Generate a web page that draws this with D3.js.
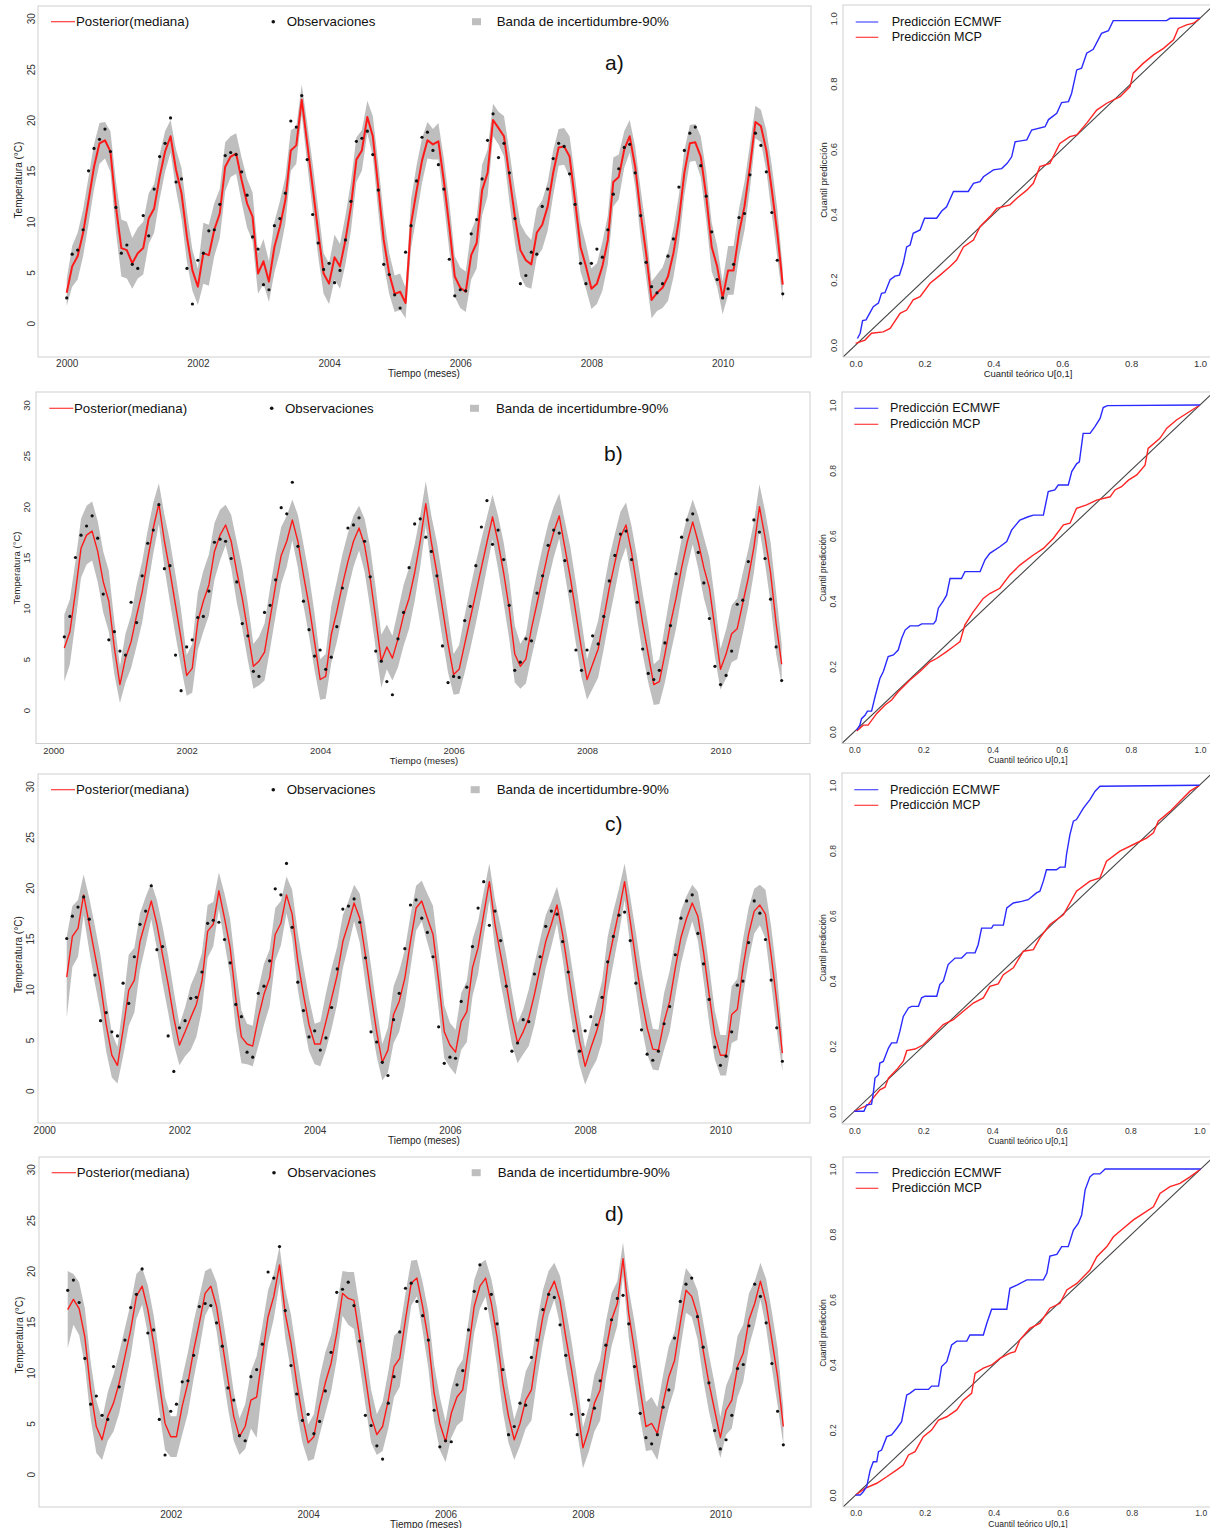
<!DOCTYPE html>
<html><head><meta charset="utf-8">
<script src="https://cdn.jsdelivr.net/npm/d3@7"></script>
<style>body{margin:0;background:#fff} svg text{font-family:"Liberation Sans",Arial,sans-serif}</style>
</head><body><svg id="c" width="1210" height="1528"></svg>
<script>
// ---------- DATA ----------
// Monthly observed temperature, Jan 2000 .. Dec 2010
const obsTemp = [
 2.5,6.8,7.2,9.2,15.0,17.2,18.1,19.1,16.9,11.4,6.9,7.7,
 5.8,5.4,10.6,8.6,13.2,16.4,17.7,20.2,13.9,14.2,5.4,1.9,
 6.2,6.9,9.1,9.2,11.7,16.5,16.8,16.6,14.9,12.6,8.5,7.3,
 3.8,3.3,9.6,10.3,12.8,19.9,19.3,22.4,16.1,10.7,7.9,5.3,
 5.9,4.0,5.2,8.2,12.0,17.9,18.2,18.9,16.6,13.1,5.8,4.8,
 2.8,1.5,7.0,9.6,14.0,18.3,18.8,17.0,15.6,13.2,6.3,2.7,
 3.3,3.2,8.8,10.2,14.2,18.0,20.6,16.3,17.7,14.8,10.3,3.9,
 4.7,7.0,6.8,11.5,13.2,16.2,17.7,17.4,14.7,11.7,5.9,3.9,
 5.9,7.3,6.5,9.2,12.7,15.2,17.3,17.6,14.8,10.6,6.0,3.6,
 3.0,3.9,6.6,8.3,13.4,17.0,18.7,19.3,15.5,12.5,9.0,4.3,
 2.5,3.4,5.8,10.4,10.8,14.6,18.7,17.5,14.9,10.9,6.2,2.9];

// Panel a: posterior median and half-width of 90% band (from Jan 2000)
const startA = 0;
const medA = [
 3.0,5.6,6.6,8.9,12.1,15.4,17.7,18.0,16.9,11.5,7.4,7.2,
 5.9,6.9,7.4,10.3,11.3,14.4,16.9,18.4,15.1,12.8,8.5,5.2,
 3.6,6.9,6.7,9.2,10.8,15.4,16.4,16.7,14.1,11.8,10.5,4.9,
 6.1,4.1,7.5,9.5,12.1,17.0,17.5,22.0,17.7,13.4,9.0,4.9,
 3.9,6.5,5.6,8.2,11.5,16.1,17.0,20.3,18.4,13.4,8.2,4.9,
 2.9,3.1,2.0,9.8,13.0,16.0,18.0,17.6,17.9,14.0,9.5,4.6,
 3.5,3.1,6.7,7.9,13.1,14.8,20.0,19.2,18.4,14.4,10.5,7.2,
 6.2,5.8,8.9,9.7,11.5,14.8,17.3,17.4,16.4,12.1,7.5,5.6,
 3.4,3.9,5.6,8.2,13.9,14.4,17.1,18.4,15.4,10.8,6.9,2.3,
 3.0,3.5,4.6,6.9,10.2,14.8,17.7,17.8,16.4,12.5,7.5,5.6,
 2.5,5.2,5.2,8.9,11.5,15.4,19.8,19.4,17.0,13.1,8.9,3.8];
const halfA = [
 1.3,2.0,2.3,2.3,2.3,2.2,2.0,1.8,2.0,2.5,2.8,2.8,
 2.5,2.5,2.6,2.5,2.4,2.2,2.0,1.6,2.0,2.5,2.5,2.0,
 1.8,3.0,3.0,2.6,2.4,2.4,2.0,2.0,2.2,2.4,2.4,2.0,
 2.2,2.0,2.5,2.5,2.3,2.0,1.8,1.5,2.0,2.3,2.4,2.0,
 2.0,2.2,2.2,2.4,2.4,2.2,2.0,1.6,2.0,2.4,2.4,2.0,
 1.8,1.8,1.5,2.4,2.5,2.2,1.8,1.5,1.8,2.2,2.4,2.0,
 2.0,2.0,2.4,2.5,2.5,2.3,1.6,1.6,2.0,2.5,2.6,2.6,
 2.6,2.4,2.4,2.4,2.4,2.2,1.8,1.8,2.0,2.3,2.4,2.2,
 2.0,2.0,2.4,2.4,2.4,2.2,1.8,1.6,2.0,2.4,2.4,1.8,
 1.8,2.0,2.4,2.4,2.4,2.2,1.8,1.8,2.0,2.4,2.4,2.0,
 1.6,2.4,2.4,2.4,2.4,2.2,1.6,1.6,2.0,2.4,2.4,1.6];

// Panel b (from Mar 2000)
const startB = 2;
const medB = [
 6.1,7.7,11.6,15.9,17.2,17.6,15.6,12.6,10.7,6.1,
 2.5,5.1,6.7,9.3,11.6,14.9,17.9,20.3,16.6,13.6,10.3,7.0,
 3.4,4.1,8.7,10.7,12.3,15.6,17.2,18.2,16.6,13.6,11.0,7.7,
 4.3,4.8,5.7,9.0,12.3,15.2,16.6,18.7,16.6,13.3,10.3,6.7,
 3.0,3.3,7.4,9.7,12.3,14.6,16.6,17.9,16.2,13.0,9.0,4.8,
 6.2,5.1,7.0,9.3,11.0,13.5,16.6,20.3,16.5,13.5,10.0,6.5,
 3.5,4.0,6.5,9.0,11.5,14.0,16.5,19.0,16.5,13.5,10.0,5.5,
 4.3,5.0,8.0,10.5,13.0,15.5,17.5,19.1,16.0,13.0,9.5,6.0,
 3.0,4.5,6.0,9.0,12.0,14.5,17.0,18.2,15.5,12.0,8.5,5.5,
 2.5,2.8,5.5,8.5,11.0,14.0,16.5,18.5,16.5,14.0,12.0,8.0,
 4.0,5.5,7.5,8.0,10.5,13.0,16.0,20.0,17.0,13.5,8.5,4.5];
const halfB = [
 3.3,3.2,3.0,2.9,2.9,2.9,3.0,3.0,3.0,2.6,
 1.8,2.4,2.6,3.0,3.0,2.8,2.5,2.0,2.6,3.0,3.0,2.8,
 2.0,2.4,2.8,3.0,3.0,2.8,2.5,2.0,2.6,3.0,3.0,2.8,
 2.2,2.4,2.8,3.0,3.0,2.8,2.5,2.0,2.6,3.0,3.0,2.8,
 2.0,2.2,2.8,3.0,3.0,2.8,2.5,2.2,2.6,3.0,3.0,2.6,
 2.2,2.2,2.8,3.0,3.0,2.8,2.5,2.2,2.6,3.0,3.0,2.8,
 2.0,2.4,2.8,3.0,3.0,2.8,2.5,2.2,2.6,3.0,3.0,2.8,
 2.2,2.4,2.8,3.0,3.0,2.8,2.5,2.2,2.6,3.0,3.0,2.8,
 2.0,2.4,2.8,3.0,3.0,2.8,2.5,2.2,2.6,3.0,3.0,2.8,
 2.0,2.2,2.8,3.0,3.0,2.8,2.5,2.2,2.6,3.0,3.0,2.8,
 2.0,2.4,2.8,3.0,3.0,2.8,2.5,2.2,2.6,3.0,3.0,2.0];

// Panel c (from May 2000)
const startC = 4;
const medC = [
 11.2,15.2,16.0,19.3,16.4,13.4,10.5,6.5,
 3.5,2.5,6.0,9.9,10.9,14.7,16.7,18.7,16.4,13.4,10.5,7.2,
 4.5,5.8,7.2,8.5,10.8,15.7,16.4,19.7,17.0,14.1,9.1,5.3,
 4.6,4.4,7.2,9.5,11.1,15.4,16.5,19.3,17.4,12.8,9.5,6.5,
 4.6,4.6,6.8,9.1,11.4,14.7,16.5,18.5,17.0,13.4,9.5,5.8,
 2.8,4.0,7.5,8.8,11.1,14.7,18.0,18.7,17.0,15.4,10.8,5.8,
 4.5,3.8,6.8,7.8,12.1,14.1,17.4,20.6,16.4,13.4,10.5,7.2,
 4.7,5.8,7.2,9.5,12.1,14.7,16.4,18.3,15.4,11.8,8.2,4.9,
 2.4,4.2,5.8,7.8,12.4,15.1,17.7,20.6,16.7,12.8,9.1,6.2,
 4.1,4.0,6.8,8.8,12.1,15.1,17.0,18.5,17.2,13.7,9.5,5.5,
 3.5,3.5,7.5,8.0,12.1,15.4,17.7,18.3,17.4,13.4,8.8,3.7];
const halfC = [
 4.0,3.0,2.8,2.0,2.6,2.8,2.8,2.6,
 2.2,1.8,2.6,3.5,3.2,2.8,2.4,1.8,2.4,2.8,2.8,2.6,
 2.0,2.4,3.2,3.2,2.8,2.6,2.2,1.8,2.4,2.8,3.0,2.6,
 2.0,2.0,2.8,3.0,2.8,2.6,2.2,1.8,2.4,2.8,2.8,2.6,
 2.0,2.2,2.8,3.0,2.8,2.6,2.2,1.8,2.4,2.8,2.8,2.4,
 1.8,2.2,2.8,3.0,2.8,2.6,2.2,2.0,2.4,2.8,2.8,2.6,
 2.2,2.2,2.8,3.0,2.8,2.6,2.2,1.8,2.4,2.8,2.8,2.6,
 2.0,2.2,2.8,3.0,2.8,2.6,2.2,1.8,2.4,2.8,2.8,2.4,
 1.8,2.2,2.8,3.0,2.8,2.6,2.2,1.8,2.4,2.8,2.8,2.6,
 2.0,2.0,2.8,3.0,2.8,2.6,2.2,1.8,2.4,2.8,2.8,2.4,
 2.0,2.0,2.8,3.0,2.8,2.6,2.2,2.0,2.4,2.8,2.8,1.8];

// Panel d (from Jul 2000)
const startD = 6;
const medD = [
 16.2,17.2,16.3,13.5,8.3,4.7,
 3.4,5.7,7.0,9.0,11.6,14.2,17.5,18.5,16.2,12.9,9.0,5.0,
 3.7,3.7,6.7,9.0,12.2,14.9,17.8,18.5,16.5,12.9,9.3,5.7,
 3.7,4.7,7.3,7.6,11.6,15.5,17.5,20.6,15.8,12.9,9.0,5.7,
 3.1,3.7,6.7,9.0,10.9,13.9,17.8,17.3,17.1,13.5,9.6,5.7,
 3.9,4.7,7.3,10.6,11.4,15.2,18.8,19.3,16.5,13.2,8.0,5.0,
 3.2,6.0,7.6,8.3,12.2,16.5,18.5,19.3,16.8,13.5,9.0,5.7,
 3.4,5.0,7.3,8.3,12.2,15.5,17.8,19.0,17.1,13.5,10.3,6.7,
 2.6,4.4,7.0,8.3,12.2,15.2,16.8,21.2,15.8,12.2,8.3,4.7,
 5.0,4.0,7.0,9.6,11.2,14.9,18.1,17.5,15.7,12.2,9.0,6.3,
 3.6,6.3,7.3,10.6,11.9,15.2,16.8,19.0,16.8,13.2,9.6,4.7];
const halfD = [
 3.8,2.5,2.6,2.8,2.8,2.6,
 2.0,2.4,2.8,3.0,2.8,2.6,2.2,1.8,2.4,2.8,2.8,2.6,
 2.0,2.0,2.8,3.0,2.8,2.6,2.2,1.8,2.4,2.8,2.8,2.4,
 1.8,2.2,2.8,4.0,3.0,2.6,2.2,1.8,2.4,2.8,2.8,2.6,
 1.8,2.2,2.8,3.0,2.8,2.6,2.2,2.6,2.8,2.8,2.8,2.6,
 2.0,2.4,2.8,3.0,2.8,2.6,2.2,1.8,2.4,2.8,2.8,2.6,
 2.0,2.4,2.8,3.0,2.8,2.6,2.2,1.8,2.4,2.8,2.8,2.6,
 2.0,2.2,2.8,3.0,2.8,2.6,2.2,1.8,2.4,2.8,2.8,2.6,
 2.0,2.2,2.8,3.0,2.8,2.6,2.2,1.6,2.4,2.8,2.8,2.4,
 2.6,2.6,2.8,3.0,2.8,2.6,2.2,2.0,2.4,2.8,2.8,2.6,
 2.0,2.4,2.8,3.0,2.8,2.6,2.2,1.8,2.4,2.8,2.8,1.8];

// Q-Q curves: [theoretical quantile U[0,1], predicted quantile]
const qqA_ecmwf = [[0.005,0.02],[0.013,0.036],[0.02,0.075],[0.03,0.077],[0.042,0.10],[0.051,0.117],[0.066,0.128],[0.075,0.158],[0.085,0.16],[0.10,0.20],[0.114,0.211],[0.127,0.214],[0.138,0.25],[0.148,0.30],[0.158,0.306],[0.167,0.342],[0.187,0.352],[0.20,0.388],[0.235,0.388],[0.25,0.41],[0.264,0.423],[0.284,0.47],[0.327,0.47],[0.342,0.495],[0.361,0.50],[0.371,0.515],[0.40,0.536],[0.424,0.54],[0.44,0.556],[0.453,0.576],[0.463,0.622],[0.497,0.628],[0.511,0.658],[0.55,0.668],[0.56,0.69],[0.584,0.709],[0.598,0.742],[0.618,0.745],[0.627,0.77],[0.642,0.842],[0.656,0.847],[0.671,0.893],[0.69,0.905],[0.714,0.954],[0.734,0.962],[0.748,0.993],[0.903,0.993],[0.913,1.0],[1.0,1.0]];
const qqA_mcp = [[0,0.005],[0.027,0.015],[0.046,0.036],[0.08,0.04],[0.10,0.051],[0.129,0.097],[0.148,0.107],[0.167,0.138],[0.187,0.148],[0.216,0.189],[0.245,0.214],[0.274,0.24],[0.293,0.26],[0.313,0.30],[0.342,0.321],[0.361,0.362],[0.39,0.393],[0.41,0.418],[0.448,0.429],[0.468,0.449],[0.497,0.474],[0.516,0.495],[0.535,0.546],[0.564,0.556],[0.593,0.617],[0.622,0.638],[0.642,0.643],[0.671,0.679],[0.70,0.719],[0.729,0.74],[0.768,0.76],[0.797,0.791],[0.806,0.832],[0.835,0.862],[0.865,0.888],[0.894,0.908],[0.923,0.934],[0.937,0.969],[0.961,0.98],[0.981,0.985],[1.0,1.0]];
const qqB_ecmwf = [[0.007,0.005],[0.016,0.02],[0.021,0.04],[0.031,0.05],[0.038,0.063],[0.05,0.063],[0.06,0.107],[0.074,0.163],[0.084,0.184],[0.098,0.23],[0.113,0.235],[0.127,0.25],[0.137,0.286],[0.147,0.311],[0.161,0.324],[0.185,0.324],[0.195,0.33],[0.229,0.33],[0.236,0.34],[0.243,0.378],[0.257,0.40],[0.267,0.418],[0.277,0.469],[0.31,0.469],[0.32,0.49],[0.364,0.49],[0.378,0.526],[0.392,0.546],[0.421,0.566],[0.441,0.582],[0.455,0.617],[0.465,0.63],[0.479,0.648],[0.503,0.658],[0.518,0.663],[0.547,0.663],[0.561,0.735],[0.58,0.74],[0.59,0.755],[0.619,0.755],[0.629,0.796],[0.643,0.82],[0.651,0.826],[0.662,0.913],[0.682,0.913],[0.696,0.934],[0.711,0.959],[0.72,0.992],[0.732,0.998],[1.0,1.0]];
const qqB_mcp = [[0.007,0.002],[0.026,0.02],[0.04,0.02],[0.065,0.056],[0.089,0.082],[0.108,0.097],[0.127,0.122],[0.161,0.158],[0.19,0.184],[0.219,0.214],[0.238,0.224],[0.267,0.245],[0.286,0.26],[0.306,0.276],[0.32,0.327],[0.344,0.367],[0.373,0.408],[0.392,0.423],[0.421,0.439],[0.45,0.48],[0.479,0.51],[0.518,0.541],[0.547,0.561],[0.576,0.592],[0.605,0.633],[0.624,0.638],[0.643,0.684],[0.672,0.694],[0.701,0.709],[0.74,0.719],[0.754,0.74],[0.773,0.75],[0.793,0.77],[0.817,0.786],[0.841,0.816],[0.85,0.867],[0.884,0.898],[0.904,0.929],[0.932,0.954],[0.961,0.974],[1.0,1.0]];
const qqC_ecmwf = [[0,0],[0.028,0],[0.036,0.02],[0.05,0.022],[0.055,0.056],[0.06,0.102],[0.07,0.112],[0.074,0.148],[0.084,0.153],[0.099,0.194],[0.108,0.21],[0.123,0.21],[0.132,0.245],[0.142,0.291],[0.157,0.317],[0.166,0.322],[0.186,0.322],[0.195,0.348],[0.205,0.353],[0.239,0.353],[0.248,0.389],[0.258,0.399],[0.272,0.45],[0.292,0.47],[0.311,0.47],[0.326,0.486],[0.35,0.486],[0.359,0.511],[0.369,0.562],[0.398,0.562],[0.403,0.571],[0.432,0.571],[0.442,0.624],[0.461,0.639],[0.485,0.644],[0.504,0.649],[0.528,0.67],[0.538,0.675],[0.548,0.706],[0.557,0.741],[0.586,0.741],[0.596,0.749],[0.611,0.749],[0.615,0.787],[0.625,0.849],[0.635,0.89],[0.644,0.895],[0.664,0.93],[0.683,0.956],[0.698,0.982],[0.712,0.997],[1.0,1.0]];
const qqC_mcp = [[0,0],[0.04,0.02],[0.055,0.041],[0.074,0.066],[0.089,0.074],[0.099,0.102],[0.123,0.128],[0.142,0.153],[0.152,0.186],[0.176,0.191],[0.2,0.204],[0.229,0.235],[0.258,0.266],[0.287,0.281],[0.316,0.307],[0.345,0.332],[0.374,0.348],[0.393,0.383],[0.417,0.391],[0.432,0.419],[0.461,0.44],[0.49,0.491],[0.519,0.496],[0.538,0.532],[0.567,0.573],[0.606,0.603],[0.644,0.675],[0.683,0.706],[0.712,0.716],[0.731,0.767],[0.77,0.798],[0.818,0.823],[0.847,0.838],[0.867,0.854],[0.881,0.89],[0.915,0.92],[0.944,0.951],[0.973,0.982],[1.0,1.0]];
const qqD_ecmwf = [[0,0],[0.013,0],[0.022,0.01],[0.032,0.026],[0.042,0.077],[0.051,0.102],[0.061,0.102],[0.066,0.133],[0.075,0.138],[0.09,0.179],[0.104,0.184],[0.119,0.204],[0.133,0.225],[0.148,0.307],[0.157,0.312],[0.172,0.324],[0.211,0.324],[0.22,0.334],[0.24,0.334],[0.249,0.394],[0.264,0.409],[0.278,0.46],[0.293,0.472],[0.322,0.472],[0.331,0.491],[0.37,0.491],[0.38,0.527],[0.394,0.57],[0.438,0.57],[0.447,0.634],[0.467,0.644],[0.496,0.66],[0.544,0.66],[0.554,0.68],[0.563,0.733],[0.583,0.738],[0.597,0.762],[0.616,0.762],[0.631,0.813],[0.645,0.833],[0.655,0.859],[0.665,0.936],[0.679,0.976],[0.689,0.985],[0.708,0.985],[0.723,1.0],[1.0,1.0]];
const qqD_mcp = [[0,0],[0.027,0.02],[0.061,0.036],[0.09,0.056],[0.119,0.077],[0.138,0.092],[0.153,0.123],[0.172,0.133],[0.196,0.179],[0.22,0.199],[0.24,0.23],[0.264,0.24],[0.293,0.261],[0.312,0.291],[0.336,0.312],[0.346,0.373],[0.37,0.389],[0.394,0.399],[0.418,0.419],[0.447,0.435],[0.462,0.44],[0.476,0.476],[0.505,0.511],[0.534,0.527],[0.563,0.573],[0.592,0.588],[0.612,0.629],[0.641,0.649],[0.679,0.69],[0.699,0.731],[0.728,0.762],[0.747,0.792],[0.776,0.818],[0.805,0.844],[0.834,0.864],[0.863,0.884],[0.882,0.925],[0.911,0.946],[0.94,0.956],[0.969,0.976],[1.0,1.0]];

// Tick labels and texts
const yTicksTemp = [0,5,10,15,20,25,30];
const xTicksYearsABC = [2000,2002,2004,2006,2008,2010];
const xTicksYearsD = [2002,2004,2006,2008,2010];
const qqTicks = [0,0.2,0.4,0.6,0.8,1.0];
const legendSeries = ["Posterior(mediana)","Observaciones","Banda de incertidumbre-90%"];
const legendQQ = ["Predicción ECMWF","Predicción MCP"];
const panelLetters = ["a)","b)","c)","d)"];

// ---------- DRAWING ----------
const svg = d3.select("#c");
const defs = svg.append("defs");
const FRAME = "#cfcfcf";
const BAND = "#bebebe";

function clip(id, b){
  defs.append("clipPath").attr("id",id).append("rect")
    .attr("x",b[0]).attr("y",b[1]).attr("width",b[2]-b[0]).attr("height",b[3]-b[1]);
  return "url(#"+id+")";
}

function drawSeries(L, med, half, start, xticks, letter, idx){
  const g = svg.append("g");
  const x = d3.scaleLinear().domain([2000,2011]).range([L.x2000, L.x2000 + 132*L.ppm]);
  const y = d3.scaleLinear().domain([0,30]).range([L.y0, L.y30]);
  const cp = clip("cs"+idx, L.box);
  const rows = med.map((m,i)=>({t:2000+(start+i)/12, m:m, h:half[i], o:obsTemp[start+i]}));
  const pg = g.append("g").attr("clip-path",cp);
  pg.append("path").datum(rows).attr("fill",BAND)
    .attr("d", d3.area().x(d=>x(d.t)).y0(d=>y(d.m-d.h)).y1(d=>y(d.m+d.h)));
  pg.append("path").datum(rows).attr("fill","none").attr("stroke","#ff1a1a")
    .attr("stroke-width",L.medW).attr("stroke-linejoin","round")
    .attr("d", d3.line().x(d=>x(d.t)).y(d=>y(d.m)));
  pg.selectAll("circle").data(rows).join("circle")
    .attr("cx",d=>x(d.t)).attr("cy",d=>y(d.o)).attr("r",1.6).attr("fill","#111");
  // frame
  g.append("rect").attr("x",L.box[0]).attr("y",L.box[1]).attr("width",L.box[2]-L.box[0]).attr("height",L.box[3]-L.box[1])
    .attr("fill","none").attr("stroke",FRAME).attr("stroke-width",1);
  // x axis
  const xa = g.append("g").attr("transform",`translate(0,${L.xtickY})`)
    .call(d3.axisBottom(x).tickValues(xticks).tickSize(0).tickPadding(0).tickFormat(d3.format("d")));
  xa.select(".domain").remove();
  xa.selectAll("text").attr("y",0).attr("dy",null).attr("dominant-baseline","central")
    .attr("font-size",L.tickFs).attr("fill","#333");
  // y axis
  const ya = g.append("g").attr("transform",`translate(${L.ytickX},0)`)
    .call(d3.axisLeft(y).tickValues(yTicksTemp).tickSize(0).tickPadding(0));
  ya.select(".domain").remove();
  ya.selectAll("text").attr("x",0).attr("dy",null).attr("text-anchor","middle")
    .attr("dominant-baseline","central").attr("transform","rotate(-90)")
    .attr("font-size",L.tickFs).attr("fill","#333");
  // titles
  g.append("text").attr("x",L.xtitleX).attr("y",L.xtitleY).attr("text-anchor","middle")
    .attr("dominant-baseline","central").attr("font-size",L.titleFs).attr("fill","#222").text("Tiempo (meses)");
  g.append("text").attr("transform",`translate(${L.ytitleX},${L.ytitleY}) rotate(-90)`)
    .attr("text-anchor","middle").attr("dominant-baseline","central")
    .attr("font-size",L.titleFs).attr("fill","#222").text("Temperatura (°C)");
  // legend
  const ly = L.legY, lx = L.leg;
  g.append("line").attr("x1",lx[0]).attr("x2",lx[1]).attr("y1",ly).attr("y2",ly).attr("stroke","#ff3b3b").attr("stroke-width",1.2);
  g.append("text").attr("x",lx[2]).attr("y",ly).attr("dominant-baseline","central").attr("font-size",13.3).attr("fill","#111").text(legendSeries[0]);
  g.append("circle").attr("cx",lx[3]).attr("cy",ly).attr("r",1.8).attr("fill","#111");
  g.append("text").attr("x",lx[4]).attr("y",ly).attr("dominant-baseline","central").attr("font-size",13.3).attr("fill","#111").text(legendSeries[1]);
  g.append("rect").attr("x",lx[5]).attr("y",ly-3.5).attr("width",9).attr("height",7).attr("fill",BAND);
  g.append("text").attr("x",lx[6]).attr("y",ly).attr("dominant-baseline","central").attr("font-size",13.3).attr("fill","#111").text(legendSeries[2]);
  g.append("text").attr("x",L.letterX).attr("y",L.letterY).attr("dominant-baseline","central").attr("font-size",21).attr("fill","#111").text(letter);
}

function drawQQ(Q, ecm, mcp, idx){
  const g = svg.append("g");
  const x = d3.scaleLinear().domain([0,1]).range([Q.u0,Q.u1]);
  const y = d3.scaleLinear().domain([0,1]).range([Q.q0,Q.q1]);
  const cp = clip("cq"+idx, Q.box);
  const pg = g.append("g").attr("clip-path",cp);
  const ua = x.invert(Q.box[0]), ub = x.invert(1215);
  pg.append("line").attr("x1",x(ua)).attr("y1",y(ua)).attr("x2",x(ub)).attr("y2",y(ub))
    .attr("stroke","#444").attr("stroke-width",1.1);
  const ln = d3.line().x(d=>x(d[0])).y(d=>y(d[1]));
  pg.append("path").datum(mcp).attr("fill","none").attr("stroke","#ff2525").attr("stroke-width",1.4).attr("d",ln);
  pg.append("path").datum(ecm).attr("fill","none").attr("stroke","#2a2aff").attr("stroke-width",1.4).attr("d",ln);
  g.append("rect").attr("x",Q.box[0]).attr("y",Q.box[1]).attr("width",Q.box[2]-Q.box[0]).attr("height",Q.box[3]-Q.box[1])
    .attr("fill","none").attr("stroke",FRAME).attr("stroke-width",1);
  const fmt = d3.format(".1f");
  const xa = g.append("g").attr("transform",`translate(0,${Q.xtickY})`)
    .call(d3.axisBottom(x).tickValues(qqTicks).tickSize(0).tickPadding(0).tickFormat(fmt));
  xa.select(".domain").remove();
  xa.selectAll("text").attr("y",0).attr("dy",null).attr("dominant-baseline","central")
    .attr("font-size",Q.tickFs).attr("fill","#333");
  const ya = g.append("g").attr("transform",`translate(${Q.ytickX},0)`)
    .call(d3.axisLeft(y).tickValues(qqTicks).tickSize(0).tickPadding(0).tickFormat(fmt));
  ya.select(".domain").remove();
  ya.selectAll("text").attr("x",0).attr("dy",null).attr("text-anchor","middle")
    .attr("dominant-baseline","central").attr("transform","rotate(-90)")
    .attr("font-size",Q.tickFs).attr("fill","#333");
  g.append("text").attr("x",Q.xtitleX).attr("y",Q.xtitleY).attr("text-anchor","middle")
    .attr("dominant-baseline","central").attr("font-size",Q.titleFs).attr("fill","#222").text("Cuantil teórico U[0,1]");
  g.append("text").attr("transform",`translate(${Q.ytitleX},${Q.ytitleY}) rotate(-90)`)
    .attr("text-anchor","middle").attr("dominant-baseline","central")
    .attr("font-size",Q.titleFs).attr("fill","#222").text("Cuantil predicción");
  const cols = ["#4b4bff","#ff4040"];
  Q.legY.forEach((ly,i)=>{
    g.append("line").attr("x1",Q.leg[0]).attr("x2",Q.leg[1]).attr("y1",ly).attr("y2",ly).attr("stroke",cols[i]).attr("stroke-width",1.2);
    g.append("text").attr("x",Q.leg[2]).attr("y",ly).attr("dominant-baseline","central").attr("font-size",12.6).attr("fill","#111").text(legendQQ[i]);
  });
}

// Layouts (pixel geometry)
const LA = {x2000:66.7, ppm:5.466, y0:323.3, y30:18.3, box:[38,6,811,357], ytickX:31.7, xtickY:363, xtitleX:424, xtitleY:373.5,
  ytitleX:18, ytitleY:180, legY:21.7, leg:[51,75,76,273.3,286.7,472,496.7], letterX:605, letterY:62, medW:2, tickFs:10, titleFs:10};
const LB = {x2000:53.2, ppm:5.561, y0:710, y30:405, box:[36,392,810,743.5], ytickX:26.7, xtickY:750, xtitleX:424, xtitleY:760,
  ytitleX:16.7, ytitleY:568, legY:408.3, leg:[49.3,73.3,74,271.7,285,470,496], letterX:604, letterY:453, medW:1.4, tickFs:9.5, titleFs:9.5};
const LC = {x2000:44.2, ppm:5.635, y0:1090.7, y30:786.3, box:[38,774,810,1123], ytickX:30, xtickY:1130, xtitleX:424, xtitleY:1140,
  ytitleX:18.3, ytitleY:954.7, legY:789.7, leg:[51,75,76,273.3,286.7,470.7,496.7], letterX:605, letterY:823, medW:1.4, tickFs:10, titleFs:10};
const LD = {x2000:33.35, ppm:5.725, y0:1474.3, y30:1169.3, box:[39,1157,811,1507], ytickX:31.7, xtickY:1514, xtitleX:426, xtitleY:1524,
  ytitleX:19.3, ytitleY:1335, legY:1172.7, leg:[51.7,76,76.7,274,287.3,471.7,497.7], letterX:605, letterY:1213, medW:1.4, tickFs:10, titleFs:10};

const QA = {u0:855.7, u1:1200, q0:345, q1:18.3, box:[843,5,1216,357], ytickX:833.3, xtickY:363, xtitleX:1028, xtitleY:373,
  ytitleX:823, ytitleY:180, legY:[22,37.3], leg:[855.7,878.3,891.7], tickFs:9.5, titleFs:9.5};
const QB = {u0:854.3, u1:1200, q0:731.7, q1:405, box:[842,392,1216,743.5], ytickX:832.7, xtickY:750, xtitleX:1028, xtitleY:760,
  ytitleX:823, ytitleY:568, legY:[408.3,424.3], leg:[854.3,878.3,890], tickFs:8.5, titleFs:8.5};
const QC = {u0:854.3, u1:1199.3, q0:1111.3, q1:785.3, box:[842,773,1216,1124], ytickX:832.7, xtickY:1130.7, xtitleX:1028, xtitleY:1140.7,
  ytitleX:823, ytitleY:948, legY:[789.7,805.3], leg:[854.3,878.3,890], tickFs:8.5, titleFs:8.5};
const QD = {u0:855.7, u1:1200.7, q0:1495, q1:1169, box:[843,1157,1216,1507], ytickX:833.3, xtickY:1513.3, xtitleX:1028, xtitleY:1524,
  ytitleX:823, ytitleY:1333, legY:[1172.7,1188.3], leg:[855.7,878.3,891.7], tickFs:8.5, titleFs:8.5};

drawSeries(LA, medA, halfA, startA, xTicksYearsABC, panelLetters[0], 0);
drawSeries(LB, medB, halfB, startB, xTicksYearsABC, panelLetters[1], 1);
drawSeries(LC, medC, halfC, startC, xTicksYearsABC, panelLetters[2], 2);
drawSeries(LD, medD, halfD, startD, xTicksYearsD, panelLetters[3], 3);
drawQQ(QA, qqA_ecmwf, qqA_mcp, 0);
drawQQ(QB, qqB_ecmwf, qqB_mcp, 1);
drawQQ(QC, qqC_ecmwf, qqC_mcp, 2);
drawQQ(QD, qqD_ecmwf, qqD_mcp, 3);
</script>
</body></html>
